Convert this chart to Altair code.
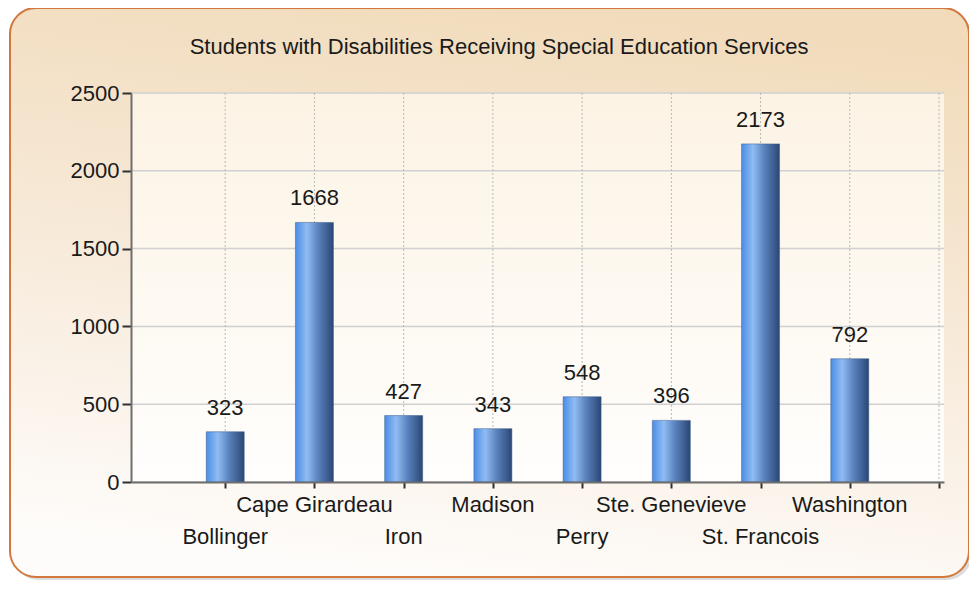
import altair as alt
import pandas as pd

counties = ["Bollinger", "Cape Girardeau", "Iron", "Madison", "Perry",
            "Ste. Genevieve", "St. Francois", "Washington"]
students = [323, 1668, 427, 343, 548, 396, 2173, 792]
y_ticks = [0, 500, 1000, 1500, 2000, 2500]
title_text = "Students with Disabilities Receiving Special Education Services"

df = pd.DataFrame({"county": counties, "students": students,
                   "pos": list(range(1, len(counties) + 1))})
vgrid = pd.DataFrame({"g": list(range(1, len(counties) + 2))})
hgrid = pd.DataFrame({"v": y_ticks})
one = pd.DataFrame({"k": [0]})

W, H = 813, 389
PADL, PADT = 123, 85
TOTW, TOTH = 961, 573
FONT = "Liberation Sans"
FS = 22

xscale = alt.Scale(domain=[0, len(counties) + 1], nice=False, zero=False)
yscale = alt.Scale(domain=[0, 2500], nice=False)

panel_grad = {"gradient": "linear", "x1": 0.6, "y1": 0, "x2": 0.4, "y2": 1,
              "stops": [{"offset": 0, "color": "#f1dbbb"},
                        {"offset": 0.55, "color": "#f8ecdd"},
                        {"offset": 1, "color": "#fefcfa"}]}
plot_grad = {"gradient": "linear", "x1": 0, "y1": 0, "x2": 0, "y2": 1,
             "stops": [{"offset": 0, "color": "#fcf3e4"},
                       {"offset": 1, "color": "#fffefd"}]}
bar_grad = {"gradient": "linear", "x1": 0, "y1": 0, "x2": 1, "y2": 0,
            "stops": [{"offset": 0, "color": "#4b8de6"},
                      {"offset": 0.3, "color": "#8fbcf2"},
                      {"offset": 0.6, "color": "#5a82bd"},
                      {"offset": 1, "color": "#2a4775"}]}

base = alt.Chart(df)
single = alt.Chart(one)

shadow = single.mark_rect(cornerRadius=26, fill="#9a9a9a", opacity=0.35).encode(
    x=alt.value(2 - PADL + 3), x2=alt.value(961 - PADL + 3),
    y=alt.value(0 - PADT + 3), y2=alt.value(569 - PADT + 3))
panel = single.mark_rect(cornerRadius=26, fill=panel_grad, stroke="#d2783f",
                         strokeWidth=2).encode(
    x=alt.value(2 - PADL), x2=alt.value(961 - PADL),
    y=alt.value(0 - PADT), y2=alt.value(569 - PADT))
plotbg = single.mark_rect(fill=plot_grad).encode(
    x=alt.value(0), x2=alt.value(W), y=alt.value(0), y2=alt.value(H))

title = single.mark_text(fontSize=FS, font=FONT, color="#1a1a1a",
                         baseline="middle", align="center").encode(
    x=alt.value(368), y=alt.value(-46), text=alt.value(title_text))

hg = alt.Chart(hgrid).mark_rule(color="#d0d0d0", strokeWidth=1.5).encode(
    y=alt.Y("v:Q", scale=yscale))
vg = alt.Chart(vgrid).mark_rule(color="#b8b8b8", strokeDash=[2, 2],
                                strokeWidth=1).encode(
    x=alt.X("g:Q", scale=xscale))

bars = base.mark_bar(size=38, color=bar_grad, stroke="#3a5a8a",
                     strokeWidth=0.5).encode(
    x=alt.X("pos:Q", scale=xscale,
            axis=alt.Axis(values=list(range(1, len(counties) + 2)),
                          labels=False, title=None, grid=False,
                          domainColor="#6e6e6e", domainWidth=2,
                          tickColor="#303030", tickWidth=2, tickSize=6,
                          zindex=1)),
    y=alt.Y("students:Q", scale=yscale,
            axis=alt.Axis(values=y_ticks, title=None, grid=False, format="d",
                          domainColor="#6e6e6e", domainWidth=2,
                          tickColor="#303030", tickWidth=2, tickSize=9,
                          labelFont=FONT, labelFontSize=FS,
                          labelColor="#1a1a1a", labelPadding=3, zindex=1)))

vals = base.mark_text(fontSize=FS, font=FONT, color="#1a1a1a",
                      baseline="bottom", dy=-12).encode(
    x=alt.X("pos:Q", scale=xscale), y=alt.Y("students:Q", scale=yscale),
    text="students:Q")

lab1 = base.transform_filter("datum.pos % 2 == 0").mark_text(
    fontSize=FS, font=FONT, color="#1a1a1a", baseline="middle").encode(
    x=alt.X("pos:Q", scale=xscale), y=alt.value(H + 23), text="county:N")
lab2 = base.transform_filter("datum.pos % 2 == 1").mark_text(
    fontSize=FS, font=FONT, color="#1a1a1a", baseline="middle").encode(
    x=alt.X("pos:Q", scale=xscale), y=alt.value(H + 55), text="county:N")

chart = alt.layer(shadow, panel, plotbg, hg, vg, bars, vals, lab1, lab2, title).properties(
    width=W, height=H,
    autosize=alt.AutoSizeParams(type="none"),
    padding={"left": PADL, "top": PADT, "right": TOTW - PADL - W,
             "bottom": TOTH - PADT - H},
    background="white",
).configure_view(stroke=None)

chart.save("out.html", embed_options={"renderer": "svg", "actions": False})
